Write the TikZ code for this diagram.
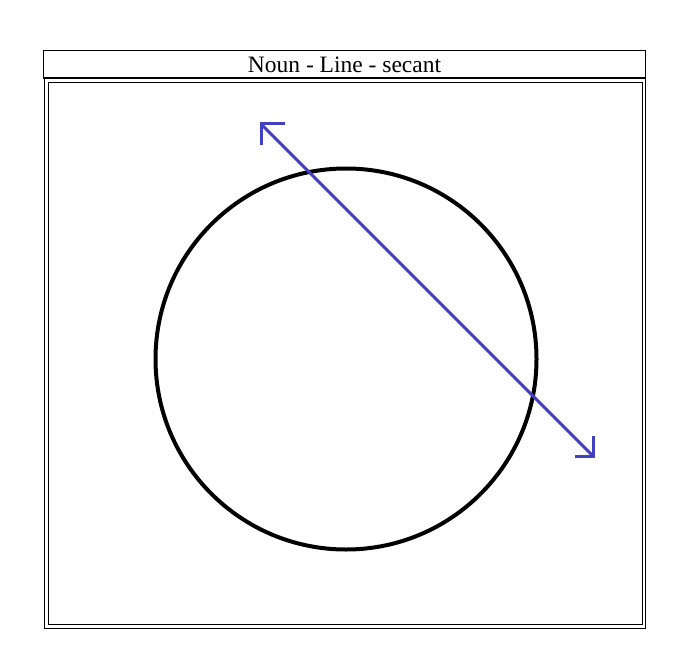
\documentclass[tikz,border=0pt]{standalone}
\usepackage{fontspec}
\setmainfont{Liberation Serif}
\definecolor{secblue}{RGB}{64,64,192}
\begin{document}
\begin{tikzpicture}[x=1pt,y=-1pt,
  frame/.style={draw=black,line width=1.2pt},
  ring/.style={draw=black,line width=4pt},
  secline/.style={draw=secblue,line width=3pt,line join=miter}]
\useasboundingbox (0,0) rectangle (692,668);
\draw[frame] (43.5,50.5) rectangle (645.5,78);
\node (title) at (344.5,64.5) {\fontsize{23.5}{28}\selectfont Noun - Line - secant};
\draw[frame] (44.5,78.5) rectangle (645.5,628.5);
\draw[frame] (48.5,82.5) rectangle (642.5,624.5);
\draw[ring] (346,359) circle (190.5);
\coordinate (a) at (261,124);
\coordinate (b) at (593.5,456.5);
\draw[secline] (a) -- (b);
\draw[secline] (285,124) -- (a) -- (261,145);
\draw[secline] (575,456.5) -- (b) -- (593.5,436);
\end{tikzpicture}
\end{document}
